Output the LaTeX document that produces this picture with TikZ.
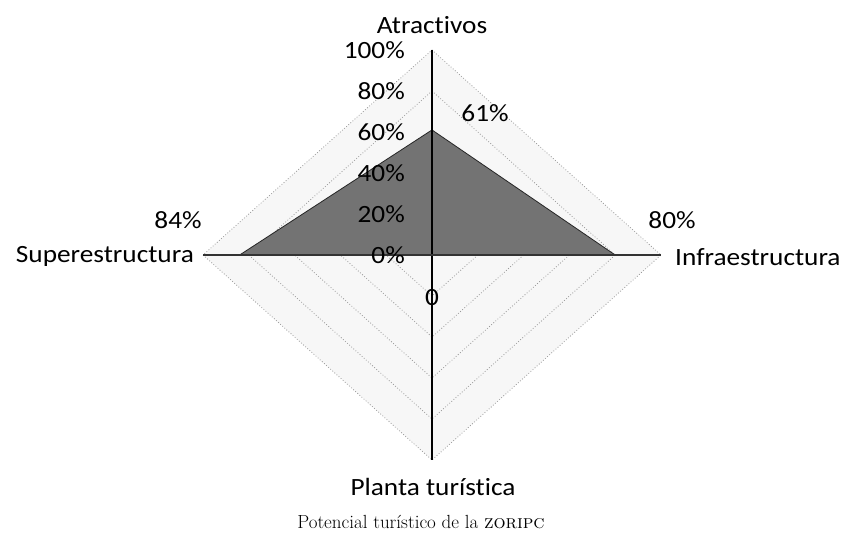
\documentclass[tikz,border=0pt]{standalone}
\usepackage{fontspec}
\newfontfamily\chartfont[FakeStretch=1.1,Ligatures={NoCommon}]{Carlito}
\usetikzlibrary{calc}
\begin{document}
\begin{tikzpicture}[x=1pt,y=-1pt,
  lbl/.style={font=\chartfont\fontsize{24.8}{28}\selectfont, inner sep=0pt},
  grid/.style={draw=gray!80, dotted, line width=0.8pt},
  axisline/.style={draw=black, line width=1.1pt},
  datapoly/.style={fill=black!55, draw=black!85, line width=0.8pt}]
\useasboundingbox (0,0) rectangle (844,556);
\coordinate (C) at (432,255);
\def\rx{229}\def\ry{205}
% background of web
\fill[gray!6] (432,50) -- (661,255) -- (432,460) -- (203,255) -- cycle;
% grid diamonds
\foreach \k in {0.2,0.4,0.6,0.8,1.0}{
  \draw[grid] ($(C)+(0,-\k*\ry)$) -- ($(C)+(\k*\rx,0)$) -- ($(C)+(0,\k*\ry)$) -- ($(C)+(-\k*\rx,0)$) -- cycle;
}
% data polygon
\coordinate (pA) at ($(C)+(0,-0.61*\ry)$);
\coordinate (pI) at ($(C)+(0.80*\rx,0)$);
\coordinate (pP) at (C);
\coordinate (pS) at ($(C)+(-0.84*\rx,0)$);
\draw[datapoly] (pA) -- (pI) -- (pP) -- (pS) -- cycle;
% axes
\coordinate (aT) at ($(C)+(0,-\ry)$);
\coordinate (aB) at ($(C)+(0,\ry)$);
\coordinate (aL) at ($(C)+(-\rx,0)$);
\coordinate (aR) at ($(C)+(\rx,0)$);
\draw[axisline] (aT) -- (aB);
\draw[axisline, draw=black!80] (aL) -- (aR);
% tick labels
\foreach \v/\t in {0/0\%,20/20\%,40/40\%,60/60\%,80/80\%,100/100\%}{
  \node[lbl, anchor=east] (t\v) at (405,{255-\v*2.05}) {\t};
}
% data labels
\node[lbl] (dA) at (485,113) {61\%};
\node[lbl] (dI) at (672,220) {80\%};
\node[lbl] (dS) at (178,220) {84\%};
\node[lbl] (dP) at (432,298) {0};
% category labels
\node[lbl] (cA) at (432,25) {Atractivos};
\node[lbl, anchor=west] (cI) at (675,257) {Infraestructura};
\node[lbl, anchor=east] (cS) at (194,256) {Superestructura};
\node[lbl] (cP) at (433,487) {Planta turística};
% title
\node[font=\fontsize{19}{22}\selectfont, inner sep=0pt] (title) at (421,522) {Potencial turístico de la \textsc{zoripc}};
\end{tikzpicture}
\end{document}
